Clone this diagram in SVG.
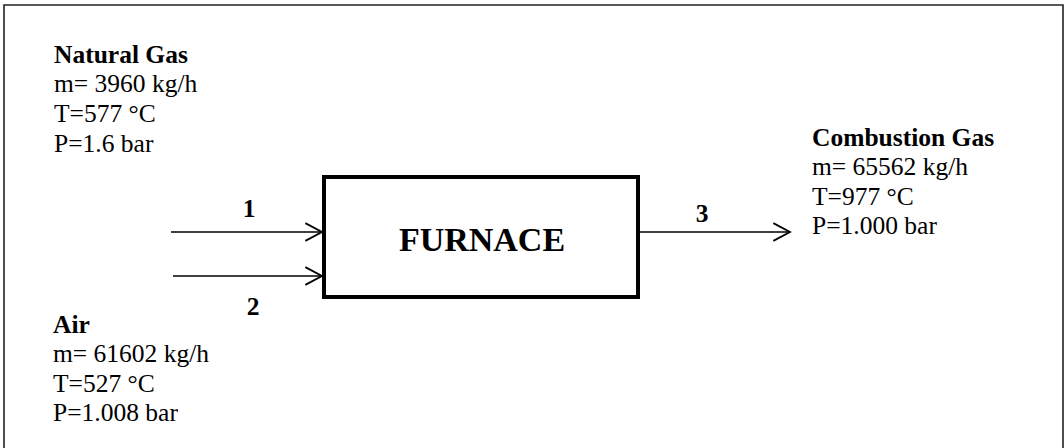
<svg xmlns="http://www.w3.org/2000/svg" width="1064" height="448" viewBox="0 0 1064 448">
<defs>
<style>
text{font-family:"Liberation Serif","Times New Roman",serif;font-size:25.5px;fill:#000}
.b{font-weight:bold}
.conn{stroke:#000;stroke-width:1.6;fill:none}
</style>
<marker id="ah" markerUnits="userSpaceOnUse" markerWidth="20" markerHeight="20" viewBox="-16 -9 18 18" refX="0" refY="0" orient="auto">
<path d="M-15,-8 L0,0 L-15,8" fill="none" stroke="#000" stroke-width="1.6"/>
</marker>
</defs>
<rect width="1064" height="448" fill="#fff"/>
<path d="M4,448 V5 H1063 V448" fill="none" stroke="#222" stroke-width="1.6"/>
<g id="connectors">
<line class="conn" x1="171" y1="232" x2="322" y2="232" marker-end="url(#ah)"/>
<line class="conn" x1="173" y1="276" x2="322" y2="276" marker-end="url(#ah)"/>
<line class="conn" x1="640" y1="232" x2="790" y2="232" marker-end="url(#ah)"/>
<text class="b" x="249" y="217" text-anchor="middle">1</text>
<text class="b" x="253" y="315" text-anchor="middle">2</text>
<text class="b" x="702" y="222" text-anchor="middle">3</text>
</g>
<g id="furnace">
<rect x="324" y="177" width="314" height="120" fill="#fff" stroke="#000" stroke-width="4"/>
<text class="b" x="482" y="251" text-anchor="middle" style="font-size:34px">FURNACE</text>
</g>
<g id="natural-gas">
<text class="b" x="54" y="63">Natural Gas</text>
<text x="54" y="92">m= 3960 kg/h</text>
<text x="54" y="122">T=577 °C</text>
<text x="54" y="152">P=1.6 bar</text>
</g>
<g id="air">
<text class="b" x="53" y="333">Air</text>
<text x="53" y="362">m= 61602 kg/h</text>
<text x="53" y="392">T=527 °C</text>
<text x="53" y="421">P=1.008 bar</text>
</g>
<g id="combustion-gas">
<text class="b" x="812" y="146">Combustion Gas</text>
<text x="812" y="175">m= 65562 kg/h</text>
<text x="812" y="205">T=977 °C</text>
<text x="812" y="234">P=1.000 bar</text>
</g>
</svg>
